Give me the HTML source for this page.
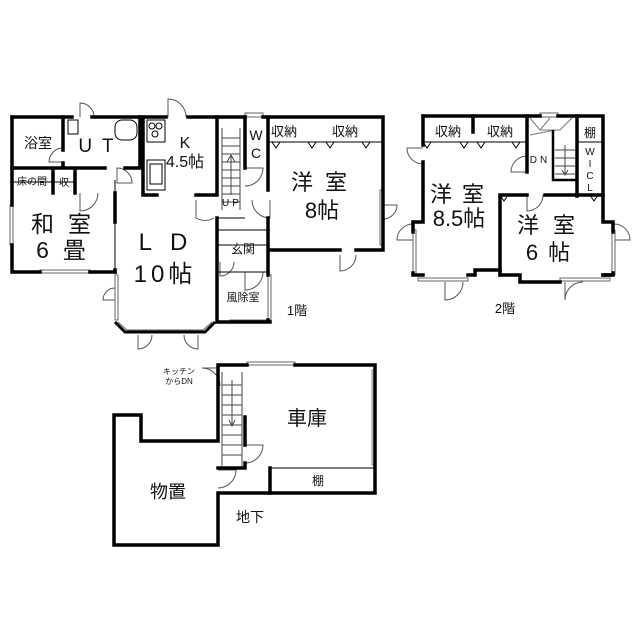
<!DOCTYPE html>
<html><head><meta charset="utf-8"><style>
html,body{margin:0;padding:0;background:#fff}
svg{display:block}
text{font-family:"Liberation Sans","Noto Sans CJK JP",sans-serif;fill:#111}
</style></head><body>
<svg width="639" height="640" viewBox="0 0 639 640" xmlns="http://www.w3.org/2000/svg">
<g fill="none" stroke="#000" stroke-width="1">
<!-- door arcs 1F -->
<path d="M80 117 v-14 a14 14 0 0 1 14 14" stroke="#555"/>
<path d="M168 117 v-18 a18 18 0 0 1 18 18" stroke="#555"/>
<path d="M63 162 h-14 a14 14 0 0 1 14 -14" stroke="#555"/>
<path d="M117 168 a15 15 0 0 1 15 15 h-15z" stroke="#555"/>
<path d="M196 200 v18 a18 18 0 0 0 18 0" stroke="#555"/>
<path d="M245 168 h18 a18 18 0 0 1 -18 18" stroke="#555"/>
<path d="M270 200 v18 a18 18 0 0 1 -18 -18" stroke="#555"/>
<path d="M80 193 v18 a18 18 0 0 0 18 -18" stroke="#555"/>
<path d="M115 300 h-12 a12 12 0 0 1 12 -12" stroke="#555"/>
<path d="M220 262 v14 a14 14 0 0 0 14 -14" stroke="#555"/>
<path d="M245 272 v18 a18 18 0 0 0 18 -18" stroke="#555"/>
<path d="M340 255 v16 a16 16 0 0 0 16 -16" stroke="#555"/>
<path d="M138 335 v14 a14 14 0 0 0 14 -14 M198 335 v14 a14 14 0 0 1 -14 -14" stroke="#555"/>
<path d="M383 205 h14 a14 14 0 0 1 -14 14" stroke="#555"/>
<!-- windows 1F -->
<rect x="10" y="205" width="3" height="40" fill="#fff" stroke="#666"/>
<rect x="40" y="270" width="50" height="3" fill="#fff" stroke="#666"/>
<rect x="115" y="275" width="3" height="45" fill="#fff" stroke="#666"/>
<rect x="268" y="275" width="3" height="45" fill="#fff" stroke="#666"/>
<rect x="380" y="190" width="3" height="55" fill="#fff" stroke="#666"/>
<rect x="230" y="320" width="40" height="3" fill="#fff" stroke="#666"/>
<rect x="245" y="113" width="18" height="4" fill="#fff" stroke="#666"/>
<!-- internal thin 1F -->
<path d="M10 182 H75 M115 180 V270 M217 230 H270 M217 245 H270 M217 272 H270 M217 218 H245 M268 142 H383"/>
<path d="M222 128 v82 M240 128 v82 M222 138 h18 M222 146 h18 M222 154 h18 M222 162 h18 M222 170 h18 M222 178 h18 M222 186 h18 M222 194 h18 M222 202 h18 M231 195 v-40 M227 162 l4 -7 l4 7" stroke="#444"/>
<!-- kitchen appliances -->
<rect x="147" y="120" width="18" height="22"/><circle cx="152" cy="126" r="3"/><circle cx="159" cy="126" r="3"/><circle cx="155" cy="134" r="3"/>
<rect x="147" y="160" width="18" height="30"/><rect x="150" y="164" width="12" height="20"/>
<rect x="115" y="120" width="22" height="20" rx="7"/>
<rect x="68" y="120" width="10" height="14"/>
<path d="M272 142 l4 6 l4 -6 M308 142 l4 6 l4 -6 M326 142 l4 6 l4 -6 M362 142 l4 6 l4 -6"/>
<path d="M115 322 l10 10 h80 l10 -10" stroke-width="3"/>
<path d="M118 322 l9 8 h76 l9 -8" stroke="#666"/>

<!-- ===== 2F thin ===== -->
<path d="M423 142 H527 M577 142 H603 M423 142 l4 6 l4 -6 M460 142 l4 6 l4 -6 M477 142 l4 6 l4 -6 M512 142 l4 6 l4 -6 M500 195 l4 6 l4 -6 M590 195 l4 6 l4 -6"/>
<path d="M555 150 h20 M555 158 h20 M555 166 h20 M555 174 h20 M565 145 v30 M562 170 l3 5 l3 -5" stroke="#444"/>
<path d="M530 118 l10 12 l10 -12 M540 130 h20 l12 -12 M530 135 l25 -5" stroke="#777"/>
<path d="M423 148 h-16 a16 16 0 0 0 16 16" stroke="#555"/>
<path d="M527 172 h-16 a16 16 0 0 1 16 -16" stroke="#555"/>
<path d="M527 195 v16 a16 16 0 0 0 16 -16" stroke="#555"/>
<path d="M413 240 h-16 a16 16 0 0 1 16 -16" stroke="#555"/>
<path d="M614 240 h16 a16 16 0 0 0 -16 -16" stroke="#555"/>
<path d="M445 282 v18 a18 18 0 0 0 18 -18 M565 282 v18 a18 18 0 0 1 18 -18" stroke="#555"/>
<rect x="413" y="230" width="3" height="45" fill="#fff" stroke="#666"/>
<rect x="612" y="230" width="3" height="45" fill="#fff" stroke="#666"/>
<rect x="418" y="278" width="50" height="3" fill="#fff" stroke="#666"/>
<rect x="560" y="278" width="50" height="3" fill="#fff" stroke="#666"/>
<rect x="540" y="113" width="18" height="4" fill="#fff" stroke="#666"/>

<!-- ===== Basement thin ===== -->
<path d="M222 372 v94 M242 372 v94 M222 385 h20 M222 395 h20 M222 405 h20 M222 415 h20 M222 425 h20 M222 435 h20 M222 445 h20 M222 455 h20 M232 380 v45 M229 420 l3 6 l3 -6" stroke="#444"/>
<path d="M220 368 h-18 a18 18 0 0 1 18 18" stroke="#555"/>
<path d="M245 445 h18 a18 18 0 0 1 -18 18" stroke="#555"/>
<path d="M218 470 h18 a18 18 0 0 1 -18 18" stroke="#555"/>
<path d="M270 468 H375"/>
<rect x="247" y="362" width="48" height="3" fill="#fff" stroke="#666"/>
<rect x="372" y="370" width="4" height="95" fill="#ddd" stroke="#888"/>
</g>

<!-- ===== thick walls ===== -->
<g fill="none" stroke="#000" stroke-width="3.5" stroke-linecap="square">
<path d="M12 117 H72 M92 117 H166 M188 117 H245 M263 117 H383 V250 H356 M340 250 H270"/>
<path d="M12 117 V205 M12 245 V272 H40 M90 272 H115"/>
<path d="M63 117 V150 M63 163 V168 M12 168 H105 M125 168 H140 V117 M53 168 V193 M75 168 V193 M143 117 V195 H157"/>
<path d="M196 195 H217 V117 M217 218 V322 M245 117 V168 M268 117 V190 M268 218 V275 M268 320 V322 M217 322 H270"/>
<path d="M115 193 V222 M115 270 V272"/>
<!-- 2F -->
<path d="M423 116 H540 M558 116 H603 V222 H613 V232 M613 273 V275 H603"/>
<path d="M423 116 V145 M423 162 V222 H413 V232 M413 273 V275 H423"/>
<path d="M473 116 V132 M527 116 V172 M577 116 V196"/>
<path d="M500 195 H527 M545 195 H603 M500 195 V275"/>
<path d="M468 275 H475 V270 H500 M500 275 H520 V282 H560 M610 275 H603"/>
<!-- Basement -->
<path d="M218 365 H247 M295 365 H375 V493 H218 V545 H114 V415 H141 V441 H218 V365"/>
<path d="M245 417 V445 M245 463 V468 H218 M270 468 V493"/>
</g>
<path d="M553 130 V180 H577" fill="none" stroke="#000" stroke-width="2.5"/>

<!-- ===== Labels ===== -->
<g text-anchor="middle">
<text x="38" y="148" font-size="14">浴室</text>
<text x="101" y="152" font-size="19" letter-spacing="10">UT</text>
<text x="32" y="185" font-size="10">床の間</text>
<text x="64" y="186" font-size="10">収</text>
<text x="185" y="148" font-size="16">K</text>
<text x="185" y="167" font-size="16">4.5帖</text>
<text x="256" y="140" font-size="14">W</text>
<text x="256" y="158" font-size="14">C</text>
<text x="232" y="206" font-size="10" letter-spacing="3">UP</text>
<text x="68" y="232" font-size="23" letter-spacing="14">和室</text>
<text x="68" y="258" font-size="23" letter-spacing="14">6畳</text>
<text x="172" y="250" font-size="24" letter-spacing="18">LD</text>
<text x="165" y="282" font-size="24" letter-spacing="4">10帖</text>
<text x="243" y="253" font-size="12">玄関</text>
<text x="243" y="301" font-size="11">風除室</text>
<text x="297" y="315" font-size="13">1階</text>
<text x="284" y="136" font-size="13">収納</text>
<text x="345" y="136" font-size="13">収納</text>
<text x="325" y="190" font-size="22" letter-spacing="12">洋室</text>
<text x="322" y="218" font-size="22">8帖</text>
<text x="448" y="136" font-size="13">収納</text>
<text x="500" y="136" font-size="13">収納</text>
<text x="590" y="137" font-size="12">棚</text>
<text x="590" y="155" font-size="10">W</text>
<text x="590" y="167" font-size="10">I</text>
<text x="590" y="179" font-size="10">C</text>
<text x="590" y="191" font-size="10">L</text>
<text x="540" y="163" font-size="10" letter-spacing="3">DN</text>
<text x="462" y="202" font-size="22" letter-spacing="10">洋室</text>
<text x="459" y="226" font-size="22">8.5帖</text>
<text x="553" y="233" font-size="22" letter-spacing="14">洋室</text>
<text x="553" y="260" font-size="22" letter-spacing="10">6帖</text>
<text x="505" y="313" font-size="13">2階</text>
<text x="179" y="374" font-size="8">キッチン</text>
<text x="179" y="384" font-size="8">からDN</text>
<text x="307" y="425" font-size="20">車庫</text>
<text x="318" y="485" font-size="12">棚</text>
<text x="168" y="498" font-size="18">物置</text>
<text x="250" y="522" font-size="14">地下</text>
</g>
</svg>
</body></html>
